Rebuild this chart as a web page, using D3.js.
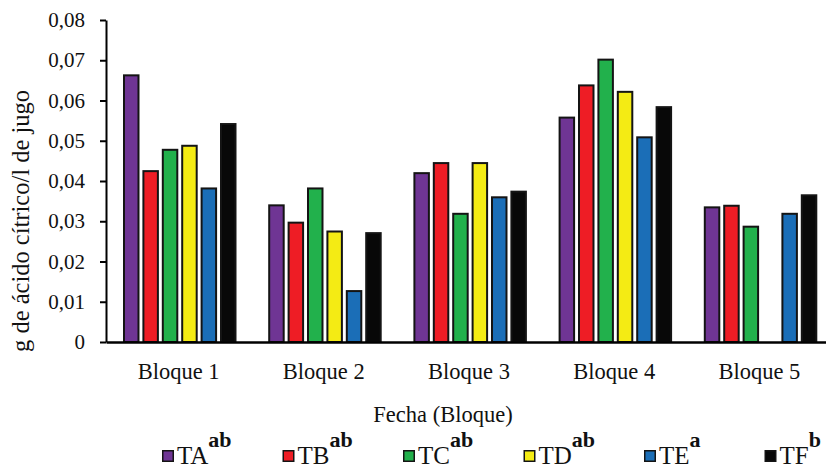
<!DOCTYPE html>
<html>
<head>
<meta charset="utf-8">
<script src="https://cdn.jsdelivr.net/npm/d3@7"></script>
<style>
  html, body { margin: 0; padding: 0; background: #fff; }
  svg { display: block; }
  svg text { font-family: "Liberation Serif", "DejaVu Serif", serif; }
</style>
</head>
<body>
<svg id="chart" width="826" height="468"></svg>
<script>
// Citric acid content per treatment, grouped by block
const blocks = ["Bloque 1", "Bloque 2", "Bloque 3", "Bloque 4", "Bloque 5"];
const treatments = ["TA", "TB", "TC", "TD", "TE", "TF"];
const letters = ["ab", "ab", "ab", "ab", "a", "b"];
const colors = ["#6F3594", "#EE1D25", "#22B14C", "#F4EB14", "#1B6EB7", "#080808"];

const TA = [0.0665, 0.0342, 0.0422, 0.0560, 0.0337];
const TB = [0.0427, 0.0299, 0.0447, 0.0640, 0.0341];
const TC = [0.0480, 0.0384, 0.0321, 0.0704, 0.0289];
const TD = [0.0490, 0.0277, 0.0447, 0.0624, 0];
const TE = [0.0384, 0.0129, 0.0362, 0.0511, 0.0321];
const TF = [0.0544, 0.0273, 0.0376, 0.0586, 0.0367];
const series = [TA, TB, TC, TD, TE, TF];

const yTicks = [0, 0.01, 0.02, 0.03, 0.04, 0.05, 0.06, 0.07, 0.08];

const SERIF = "Liberation Serif";
const svg = d3.select("#chart").attr("font-family", SERIF);

const x0 = d3.scaleBand().domain(blocks).range([106, 832]).padding(0);
const x1 = d3.scaleBand().domain(treatments).range([17, 130.5]).paddingInner(0.15).paddingOuter(0);
const y = d3.scaleLinear().domain([0, 0.08]).range([342, 20]);

const fmt = v => v === 0 ? "0" : d3.format(".2f")(v).replace(".", ",");

// bars
const rows = [];
blocks.forEach((b, i) => {
  treatments.forEach((t, j) => {
    rows.push({ block: b, t, j, v: series[j][i] });
  });
});

svg.append("g").selectAll("rect")
  .data(rows.filter(d => d.v > 0))
  .join("rect")
  .attr("x", d => x0(d.block) + x1(d.t) + 1)
  .attr("y", d => y(d.v) + 1)
  .attr("width", x1.bandwidth() - 2)
  .attr("height", d => y(0) - y(d.v) - 1)
  .attr("fill", d => colors[d.j])
  .attr("stroke", "#141414")
  .attr("stroke-width", 2);

// y axis
const yAxis = d3.axisLeft(y).tickValues(yTicks).tickFormat(fmt).tickSize(6).tickSizeOuter(0);
const gy = svg.append("g").attr("transform", "translate(106,0)").call(yAxis)
  .attr("font-family", SERIF);
gy.select(".domain").attr("stroke", "#000").attr("stroke-width", 2);
gy.selectAll(".tick line").attr("stroke", "#000").attr("stroke-width", 2);
gy.selectAll(".tick text")
  .attr("x", -21)
  .attr("font-size", 21)
  .attr("font-family", SERIF)
  .attr("fill", "#111");

// x axis
const xAxis = d3.axisBottom(x0).tickSize(0).tickSizeOuter(0);
const gx = svg.append("g").attr("transform", "translate(0,342)").call(xAxis)
  .attr("font-family", SERIF);
gx.select(".domain").attr("stroke", "#000").attr("stroke-width", 2.5);
gx.selectAll(".tick text")
  .attr("y", 21)
  .attr("dy", "0.71em")
  .attr("font-size", 22.5)
  .attr("font-family", SERIF)
  .attr("fill", "#111");

// axis titles
svg.append("text")
  .attr("transform", "translate(29,221) rotate(-90)")
  .attr("text-anchor", "middle")
  .attr("font-family", SERIF)
  .attr("font-size", 24.5)
  .attr("fill", "#111")
  .text("g de ácido cítrico/l de jugo");

svg.append("text")
  .attr("x", 443)
  .attr("y", 422)
  .attr("text-anchor", "middle")
  .attr("font-family", SERIF)
  .attr("font-size", 22.5)
  .attr("fill", "#111")
  .text("Fecha (Bloque)");

// legend
const legend = svg.append("g").attr("font-family", SERIF);
treatments.forEach((t, i) => {
  const lx = 162 + i * 120.5;
  const g = legend.append("g").attr("transform", `translate(${lx},0)`);
  g.append("rect")
    .attr("x", 0.75).attr("y", 450.75)
    .attr("width", 10.5).attr("height", 10.5)
    .attr("fill", colors[i])
    .attr("stroke", "#141414")
    .attr("stroke-width", 1.5);
  const txt = g.append("text")
    .attr("x", 15)
    .attr("y", 464)
    .attr("font-family", SERIF)
    .attr("font-size", 25)
    .attr("fill", "#111");
  txt.append("tspan").text(t);
  txt.append("tspan")
    .attr("dx", 0)
    .attr("dy", -17)
    .attr("font-size", 22)
    .attr("font-weight", "bold")
    .text(letters[i]);
});
</script>
</body>
</html>
